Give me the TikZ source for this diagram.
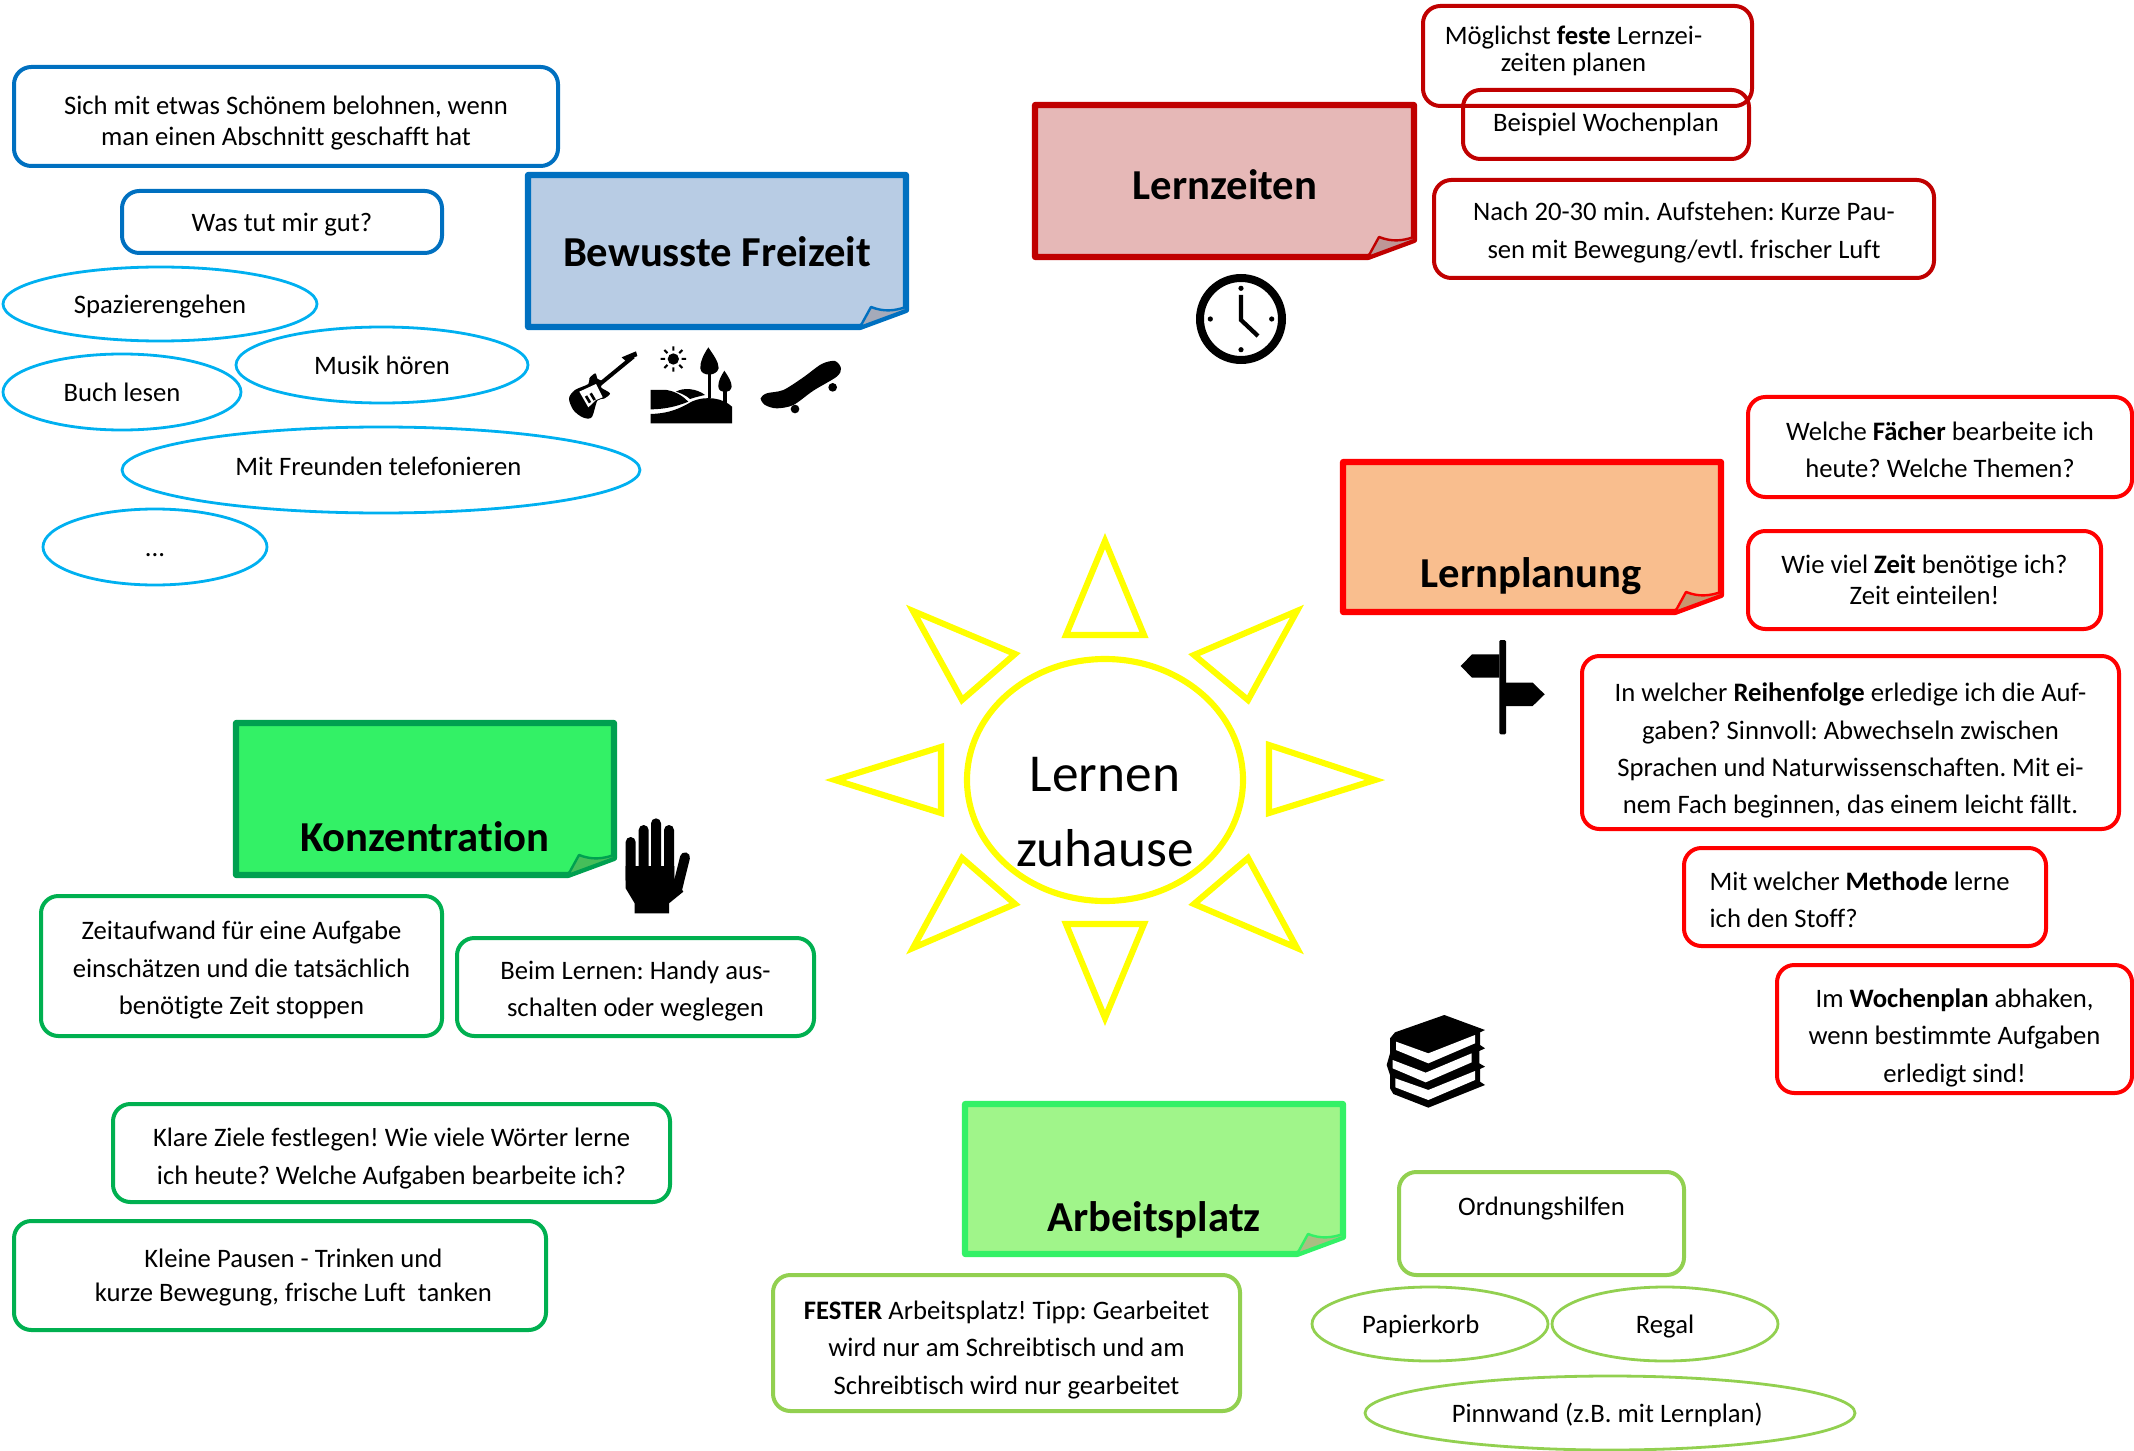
\documentclass[tikz,border=0pt]{standalone}
\usepackage{fontspec}
\setmainfont[Ligatures=NoCommon]{Carlito}
\usetikzlibrary{shapes.geometric}
\definecolor{bluedk}{HTML}{0070C0}
\definecolor{bluelt}{HTML}{00B0F0}
\definecolor{reddk}{HTML}{C00000}
\definecolor{redlt}{HTML}{FF0000}
\definecolor{grndk}{HTML}{00B050}
\definecolor{grnlm}{HTML}{92D050}
\definecolor{sunyel}{HTML}{FFFF00}
\definecolor{konzline}{RGB}{0,160,80}
\definecolor{platzline}{RGB}{51,241,102}
\definecolor{fillfrei}{RGB}{184,204,228}
\definecolor{fillzeit}{RGB}{230,184,183}
\definecolor{fillplan}{RGB}{249,190,142}
\definecolor{fillkonz}{RGB}{51,241,102}
\definecolor{fillplatz}{RGB}{160,245,138}
\definecolor{flapfrei}{RGB}{165,170,185}
\definecolor{flapzeit}{RGB}{190,150,150}
\definecolor{flapplan}{RGB}{200,150,110}
\definecolor{flapkonz}{RGB}{70,190,90}
\definecolor{flapplatz}{RGB}{170,190,130}
\newcommand{\lowtext}[2]{\raisebox{\dimexpr-#1-6.5pt\relax}[0pt][0pt]{\begin{tabular}{@{}c@{}}#2\end{tabular}}}
\newcommand{\bubble}[8][0pt]{\node[bubblebox,draw=#7,minimum width={(#5-#3)*0.75pt},minimum height={(#6-#4)*0.75pt}] (#2) at ({(#3+#5)/2},{(#4+#6)/2}) {\lowtext{#1}{#8}};}
\newcommand{\ovalbub}[8][0pt]{\node[ovalbox,draw=#7,minimum width={2*#5*0.75pt},minimum height={2*#6*0.75pt}] (#2) at (#3,#4) {\lowtext{#1}{#8}};}
\newcommand{\sticky}[9]{%
 \draw[line width=4.6pt,line join=round,draw=#6,fill=#7] (#2,#3) -- (#4,#3) -- (#4,#5-17) -- (#4-46,#5) -- (#2,#5) -- cycle;
 \draw[line width=1.8pt,line join=round,draw=#6,fill=#8] (#4-46,#5) -- (#4-35,#5-20) .. controls (#4-22,#5-15) and (#4-12,#5-16) .. (#4,#5-20) -- (#4,#5-17) -- cycle;
 \node[headtext] (#1) at #9;}
\tikzset{
 bubblebox/.style={rounded corners=13pt,line width=3pt,inner sep=0pt,align=center,font=\fontsize{20}{28}\selectfont\frenchspacing},
 ovalbox/.style={ellipse,line width=2.1pt,inner sep=0pt,align=center,font=\fontsize{20}{28}\selectfont\frenchspacing},
 headtext/.style={inner sep=0pt,font=\fontsize{32}{36}\selectfont\bfseries},
 suntri/.style={draw=sunyel,line width=4.6pt,line join=miter},
}
\begin{document}
\begin{tikzpicture}[x=0.75pt,y=-0.75pt]
\useasboundingbox (0,0) rectangle (2134,1451);
% sun
\node[ellipse,draw=sunyel,line width=4.6pt,minimum width={276*0.75pt},minimum height={242*0.75pt},inner sep=0pt,align=center,font=\fontsize{40}{56}\selectfont] (sun) at (1105,780) {\lowtext{25.5pt}{Lernen\\zuhause}};
\draw[suntri] (1105,541) -- (1066,635) -- (1144,635) -- cycle;
\draw[suntri] (1105,1018) -- (1066,924) -- (1144,924) -- cycle;
\draw[suntri] (835,780) -- (941,747) -- (941,813) -- cycle;
\draw[suntri] (1375,780) -- (1269,745) -- (1269,813) -- cycle;
\draw[suntri] (913,611) -- (1015,654) -- (962,700) -- cycle;
\draw[suntri] (1297,611) -- (1194,655) -- (1248,700) -- cycle;
\draw[suntri] (913,948) -- (1015,904) -- (962,858) -- cycle;
\draw[suntri] (1297,948) -- (1194,904) -- (1248,858) -- cycle;
% stickies
\sticky{freizeit}{528}{175}{906}{327}{bluedk}{fillfrei}{flapfrei}{(717,252) {Bewusste Freizeit}}
\sticky{zeiten}{1035}{105}{1414}{257}{reddk}{fillzeit}{flapzeit}{(1225,185) {Lernzeiten}}
\sticky{planung}{1343}{462}{1721}{612}{redlt}{fillplan}{flapplan}{(1531,576) {Lernplanung}}
\sticky{konz}{236}{723}{614}{875}{konzline}{fillkonz}{flapkonz}{(425,837) {Konzentration}}
\sticky{platz}{965}{1104}{1343}{1254}{platzline}{fillplatz}{flapplatz}{(1154,1220) {Arbeitsplatz}}
% blue
\bubble[3pt]{b1}{14}{67}{558}{166}{bluedk}{Sich mit etwas Schönem belohnen, wenn\\[-4.5pt]man einen Abschnitt geschafft hat}
\bubble{b2}{122}{191}{442}{253}{bluedk}{Was tut mir gut?}
\ovalbub{o1}{160}{304}{157}{37}{bluelt}{Spazierengehen}
\ovalbub{o2}{382}{365}{146}{38}{bluelt}{Musik hören}
\ovalbub{o3}{122}{392}{119}{38}{bluelt}{Buch lesen}
\ovalbub[-3pt]{o4}{381}{470}{259}{43}{bluelt}{\hspace*{-4pt}Mit Freunden telefonieren}
\ovalbub{o5}{155}{547}{112}{38}{bluelt}{...}
% lernzeiten
\bubble[-5.5pt]{r1}{1423}{6}{1752}{106}{reddk}{\hspace*{-21pt}Möglichst \textbf{feste} Lernzei-\\[-7.5pt]\hspace*{-21pt}zeiten planen}
\bubble[-1.5pt]{r2}{1463}{90}{1749}{159}{reddk}{Beispiel Wochenplan}
\bubble[1pt]{r3}{1434}{180}{1934}{278}{reddk}{Nach 20-30 min. Aufstehen: Kurze Pau-\\sen mit Bewegung/evtl. frischer Luft}
% lernplanung
\bubble[2pt]{p1}{1748}{397}{2132}{497}{redlt}{Welche \textbf{Fächer} bearbeite ich\\heute? Welche Themen?}
\bubble{p2}{1748}{531}{2101}{629}{redlt}{Wie viel \textbf{Zeit} benötige ich?\\[-4.5pt]Zeit einteilen!}
\bubble[4.5pt]{p3}{1582}{656}{2119}{829}{redlt}{In welcher \textbf{Reihenfolge} erledige ich die Auf-\\gaben? Sinnvoll: Abwechseln zwischen\\Sprachen und Naturwissenschaften. Mit ei-\\nem Fach beginnen, das einem leicht fällt.}
\bubble[2pt]{p4}{1684}{848}{2046}{946}{redlt}{\hspace*{-8pt}\begin{tabular}{@{}l@{}}Mit welcher \textbf{Methode} lerne\\ich den Stoff?\end{tabular}}
\bubble[5pt]{p5}{1777}{965}{2132}{1093}{redlt}{Im \textbf{Wochenplan} abhaken,\\wenn bestimmte Aufgaben\\erledigt sind!}
% konzentration
\bubble[1.5pt]{g1}{41}{896}{442}{1036}{grndk}{Zeitaufwand für eine Aufgabe\\einschätzen und die tatsächlich\\benötigte Zeit stoppen}
\bubble[1.5pt]{g2}{457}{938}{814}{1036}{grndk}{Beim Lernen: Handy aus-\\schalten oder weglegen}
\bubble[2.5pt]{g3}{113}{1104}{670}{1202}{grndk}{Klare Ziele festlegen! Wie viele Wörter lerne\\ich heute? Welche Aufgaben bearbeite ich?}
\bubble{g4}{14}{1221}{546}{1330}{grndk}{\hspace*{20pt}Kleine Pausen - Trinken und\\[-2.5pt]\hspace*{20pt}kurze Bewegung, frische Luft~ tanken}
% arbeitsplatz
\bubble[3.5pt]{a1}{773}{1275}{1240}{1411}{grnlm}{\textbf{FESTER} Arbeitsplatz! Tipp: Gearbeitet\\wird nur am Schreibtisch und am\\Schreibtisch wird nur gearbeitet}
\bubble[-13pt]{a2}{1399}{1172}{1684}{1275}{grnlm}{Ordnungshilfen}
\ovalbub{a3}{1430}{1324}{118}{37}{grnlm}{\hspace*{-14pt}Papierkorb}
\ovalbub{a4}{1665}{1324}{113}{37}{grnlm}{Regal}
\ovalbub{a5}{1610}{1413}{245}{37}{grnlm}{\hspace*{-4pt}Pinnwand (z.B. mit Lernplan)}
% clock
\draw[line width=6pt] (1241,319) circle (41);
\foreach \a in {0,90,180,270} \fill (1241,319) ++(\a:30.7) circle (2.6);
\draw[line width=3.2pt,line join=miter] (1241,295) -- (1241,320) -- (1258,336);
% icons from zoomed crops
\begin{scope}[shift={(520,160)},x=0.25pt,y=-0.25pt]
 % guitar
 \draw[line width=3pt] (240,672) -- (340,590);
 \fill (305,592) -- (348,574) -- (352,588) -- (318,604) -- cycle;
 \fill plot[smooth cycle,tension=.5] coordinates {(226,640) (233,657) (250,665) (243,682) (270,700) (252,716) (232,722) (215,772) (188,772) (160,750) (147,715) (165,690) (205,672) (208,655)};
 \fill[white] (178,695) -- (228,672) -- (248,712) -- (228,720) -- (205,742) -- cycle;
 \draw[line width=2pt] (198,708) -- (210,728) (212,700) -- (224,720);
 % landscape
 \fill (460,597) circle (17);
 \draw[line width=1.5pt] \foreach \a in {0,45,...,315} {(460,597) ++(\a:25) -- ++(\a:13)};
 \fill (565,562) .. controls (550,585) and (540,605) .. (541,625) .. controls (543,650) and (590,650) .. (596,625) .. controls (596,605) and (580,585) .. (565,562) -- cycle;
 \fill (563,640) rectangle (574,715);
 \fill (613,632) .. controls (602,650) and (594,665) .. (595,680) .. controls (597,702) and (632,702) .. (635,680) .. controls (635,665) and (625,650) .. (613,632) -- cycle;
 \fill (610,690) rectangle (620,735);
 \fill (392,690) -- (440,690) .. controls (470,695) and (490,710) .. (505,725) .. controls (470,740) and (430,748) .. (392,748) -- cycle;
 \fill (468,695) .. controls (490,682) and (530,685) .. (555,705) .. controls (540,708) and (525,712) .. (510,717) .. controls (500,708) and (485,700) .. (468,695) -- cycle;
 \fill (392,762) .. controls (450,760) and (480,745) .. (515,725) .. controls (560,705) and (610,715) .. (636,740) -- (636,790) -- (392,790) -- cycle;
 % skateboard
 \fill plot[smooth cycle,tension=.5] coordinates {(722,715) (740,700) (790,690) (850,652) (905,612) (945,603) (963,625) (950,650) (880,692) (820,735) (770,745) (735,735)};
 \fill (825,747) circle (13);
 \fill (938,682) circle (13);
\end{scope}
% signpost
\begin{scope}[shift={(1300,560)},x=0.25pt,y=-0.25pt]
 \fill[rounded corners=1pt] (598,240) rectangle (618,523);
 \fill (598,283) -- (516,283) -- (482,318) -- (516,353) -- (598,353) -- cycle;
 \fill (618,368) -- (698,368) -- (734,403) -- (698,438) -- (618,438) -- cycle;
\end{scope}
% hand
\begin{scope}[shift={(540,780)},x=0.25pt,y=-0.25pt]
 \draw[line width=7.5pt,line cap=round] (272,186) -- (272,300) (311,150) -- (311,300) (348,130) -- (348,300) (387,150) -- (387,300) (435,232) -- (412,325);
 \fill (257,258) -- (403,258) -- (403,295) -- (430,335) -- (387,370) -- (387,400) -- (284,400) -- (284,370) -- (257,325) -- cycle;
\end{scope}
% books
\begin{scope}[shift={(1280,1000)},x=0.25pt,y=-0.25pt]
 \fill (345,97) -- (493,45) -- (615,90) -- (600,97) -- (600,135) -- (615,145) -- (598,153) -- (598,190) -- (615,200) -- (600,207) -- (600,245) -- (615,255) -- (445,323) -- (340,282) -- (330,265) -- (330,225) -- (320,195) -- (330,160) -- (330,115) -- cycle;
 \fill[white] (348,125) -- (445,160) -- (585,105) -- (585,130) -- (445,190) -- (348,150) -- cycle;
 \fill[white] (338,180) -- (437,218) -- (575,160) -- (575,187) -- (437,247) -- (338,205) -- cycle;
 \fill[white] (346,235) -- (445,270) -- (585,213) -- (585,240) -- (445,300) -- (346,262) -- cycle;
\end{scope}
\end{tikzpicture}
\end{document}
